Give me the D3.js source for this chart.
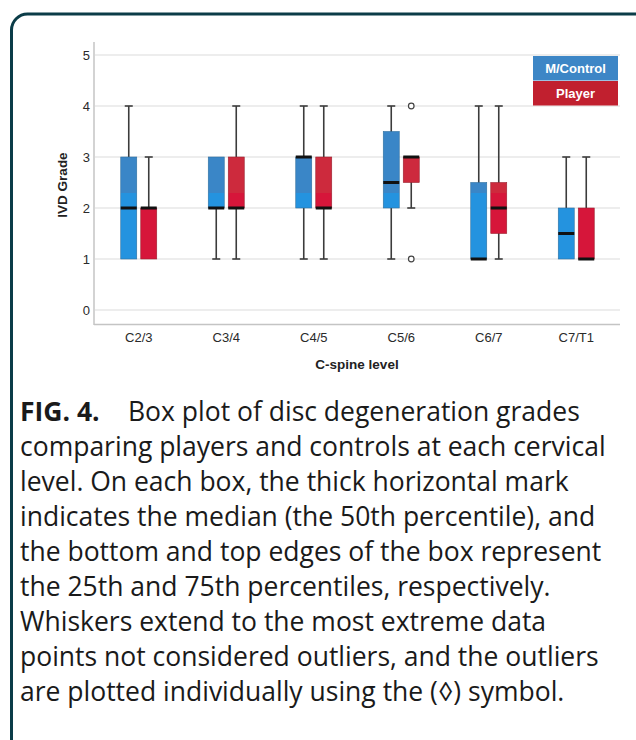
<!DOCTYPE html>
<html>
<head>
<meta charset="utf-8">
<script src="https://cdn.jsdelivr.net/npm/d3@7"></script>
<style>
  body { margin: 0; background: #fff; }
  svg { display: block; }
</style>
</head>
<body>
<div id="app"></div>
<script>
// box plot data
const categories = ["C2/3", "C3/4", "C4/5", "C5/6", "C6/7", "C7/T1"];
const groups = ["M/Control", "Player"];

const controlMin = [1, 1, 1, 1, 1, 1];
const controlQ1 = [1, 2, 2, 2, 1, 1];
const controlMedian = [2, 2, 3, 2.5, 1, 1.5];
const controlQ3 = [3, 3, 3, 3.5, 2.5, 2];
const controlMax = [4, 3, 4, 4, 4, 3];
const controlOutliers = [[], [], [], [], [], []];

const playerMin = [1, 1, 1, 2, 1, 1];
const playerQ1 = [1, 2, 2, 2.5, 1.5, 1];
const playerMedian = [2, 2, 2, 3, 2, 1];
const playerQ3 = [2, 3, 3, 3, 2.5, 2];
const playerMax = [3, 4, 4, 3, 4, 3];
const playerOutliers = [[], [], [], [4, 1], [], []];

const yTicks = [0, 1, 2, 3, 4, 5];

const caption = [
  "comparing players and controls at each cervical",
  "level. On each box, the thick horizontal mark",
  "indicates the median (the 50th percentile), and",
  "the bottom and top edges of the box represent",
  "the 25th and 75th percentiles, respectively.",
  "Whiskers extend to the most extreme data",
  "points not considered outliers, and the outliers",
  "are plotted individually using the (\u25CA) symbol."
];

function draw() {
  const width = 636;
  const height = 740;

  const svg = d3.select("#app").append("svg").attr("width", width).attr("height", height);

  // FRAME
  svg.append("path")
    .attr("d", "M11.5,740 L11.5,30 A16,16 0 0 1 27.5,14 L640,14")
    .attr("fill", "none")
    .attr("stroke", "#0b3c48")
    .attr("stroke-width", 3);

  const x = d3.scaleBand().domain(categories).range([95, 620]);
  const x1 = d3.scaleBand().domain(groups).range([-18, 18]).paddingInner(0.2);
  const y = d3.scaleLinear().domain([0, 5]).range([310, 55]);

  const colors = {
    "M/Control": { top: "#3a86c7", bottom: "#2493df", edge: "#2f6f9e", legend: "#3d86c6" },
    "Player": { top: "#cd2a3d", bottom: "#d6163a", edge: "#9a2230", legend: "#c1202f" }
  };

  // two-tone fill, the boxes are darker above ~2.3
  const defs = svg.append("defs");
  groups.forEach((g, i) => {
    const grad = defs.append("linearGradient")
      .attr("id", "fill" + i)
      .attr("gradientUnits", "userSpaceOnUse")
      .attr("x1", 0).attr("x2", 0)
      .attr("y1", y(5)).attr("y2", y(0));
    const split = (y(2.3) - y(5)) / (y(0) - y(5));
    grad.append("stop").attr("offset", 0).attr("stop-color", colors[g].top);
    grad.append("stop").attr("offset", split).attr("stop-color", colors[g].top);
    grad.append("stop").attr("offset", split).attr("stop-color", colors[g].bottom);
    grad.append("stop").attr("offset", 1).attr("stop-color", colors[g].bottom);
  });

  // GRID
  svg.append("g")
    .selectAll("line")
    .data(yTicks)
    .join("line")
    .attr("x1", 95).attr("x2", 620)
    .attr("y1", d => y(d)).attr("y2", d => y(d))
    .attr("stroke", "#dcdcdc")
    .attr("stroke-width", 1.2);

  // AXES
  svg.append("line")
    .attr("x1", 94).attr("x2", 94).attr("y1", 42).attr("y2", 325)
    .attr("stroke", "#c4c4c4").attr("stroke-width", 1.5);
  svg.append("line")
    .attr("x1", 94).attr("x2", 620).attr("y1", 324.5).attr("y2", 324.5)
    .attr("stroke", "#c4c4c4").attr("stroke-width", 1.5);

  svg.append("g")
    .selectAll("text")
    .data(yTicks)
    .join("text")
    .attr("x", 90)
    .attr("y", d => y(d) + 5)
    .attr("text-anchor", "end")
    .style("font", "13px 'Liberation Sans', Arial, sans-serif")
    .attr("fill", "#2a2a2a")
    .text(d => d);

  svg.append("g")
    .selectAll("text")
    .data(categories)
    .join("text")
    .attr("x", d => x(d) + x.bandwidth() / 2)
    .attr("y", 342)
    .attr("text-anchor", "middle")
    .style("font", "13px 'Liberation Sans', Arial, sans-serif")
    .attr("fill", "#2a2a2a")
    .text(d => d);

  svg.append("text")
    .attr("x", 357).attr("y", 369)
    .attr("text-anchor", "middle")
    .style("font", "bold 13.5px 'Liberation Sans', Arial, sans-serif")
    .attr("fill", "#222")
    .text("C-spine level");

  svg.append("text")
    .attr("transform", "translate(67,185) rotate(-90)")
    .attr("text-anchor", "middle")
    .style("font", "bold 13.5px 'Liberation Sans', Arial, sans-serif")
    .attr("fill", "#222")
    .text("IVD Grade");

  // BOXES
  const series = [
    { group: "M/Control", min: controlMin, q1: controlQ1, med: controlMedian, q3: controlQ3, max: controlMax, out: controlOutliers },
    { group: "Player", min: playerMin, q1: playerQ1, med: playerMedian, q3: playerQ3, max: playerMax, out: playerOutliers }
  ];

  const boxes = [];
  series.forEach((s, si) => {
    categories.forEach((c, i) => {
      boxes.push({
        cat: c, group: s.group, gi: si,
        min: s.min[i], q1: s.q1[i], med: s.med[i], q3: s.q3[i], max: s.max[i], out: s.out[i]
      });
    });
  });

  const bw = x1.bandwidth();
  const left = d => x(d.cat) + x.bandwidth() / 2 + x1(d.group);
  const mid = d => left(d) + bw / 2;

  const g = svg.append("g").selectAll("g").data(boxes).join("g");

  // whiskers
  g.append("line")
    .attr("x1", mid).attr("x2", mid)
    .attr("y1", d => y(d.max)).attr("y2", d => y(d.min))
    .attr("stroke", "#3c3c3c").attr("stroke-width", 1.6);
  g.filter(d => d.max > d.q3).append("line")
    .attr("x1", d => mid(d) - 4).attr("x2", d => mid(d) + 4)
    .attr("y1", d => y(d.max)).attr("y2", d => y(d.max))
    .attr("stroke", "#3c3c3c").attr("stroke-width", 1.6);
  g.filter(d => d.min < d.q1).append("line")
    .attr("x1", d => mid(d) - 4).attr("x2", d => mid(d) + 4)
    .attr("y1", d => y(d.min)).attr("y2", d => y(d.min))
    .attr("stroke", "#3c3c3c").attr("stroke-width", 1.6);

  g.append("rect")
    .attr("x", left)
    .attr("width", bw)
    .attr("y", d => y(d.q3))
    .attr("height", d => y(d.q1) - y(d.q3))
    .attr("fill", d => `url(#fill${d.gi})`)
    .attr("stroke", d => colors[d.group].edge)
    .attr("stroke-width", 0.6);

  g.append("line")
    .attr("x1", left).attr("x2", d => left(d) + bw)
    .attr("y1", d => y(d.med)).attr("y2", d => y(d.med))
    .attr("stroke", "#111").attr("stroke-width", 3);

  g.selectAll("circle")
    .data(d => d.out.map(v => ({ v, d })))
    .join("circle")
    .attr("cx", o => mid(o.d))
    .attr("cy", o => y(o.v))
    .attr("r", 2.8)
    .attr("fill", "#fff")
    .attr("stroke", "#444")
    .attr("stroke-width", 1.2);

  // LEGEND
  const legend = svg.append("g").attr("transform", "translate(533,56)");
  groups.forEach((grp, i) => {
    legend.append("rect")
      .attr("x", 0).attr("y", i * 25)
      .attr("width", 85).attr("height", 24.5)
      .attr("fill", colors[grp].legend);
    legend.append("text")
      .attr("x", 42.5).attr("y", i * 25 + 17)
      .attr("text-anchor", "middle")
      .style("font", "bold 13px 'Liberation Sans', Arial, sans-serif")
      .attr("fill", "#fff")
      .text(grp);
  });

  // CAPTION
  const cap = svg.append("g").style("font", "26.5px 'Open Sans', 'Noto Sans', sans-serif").attr("fill", "#1a1a1a");
  const first = cap.append("text").attr("x", 20).attr("y", 421);
  first.append("tspan").style("font-weight", "bold").text("FIG. 4.");
  first.append("tspan").attr("x", 128).text("Box plot of disc degeneration grades");

  cap.selectAll(".line")
    .data(caption)
    .join("text")
    .attr("class", "line")
    .attr("x", 20)
    .attr("y", (d, i) => 456 + i * 35)
    .text(d => d);
}
draw();
</script>
</body>
</html>
